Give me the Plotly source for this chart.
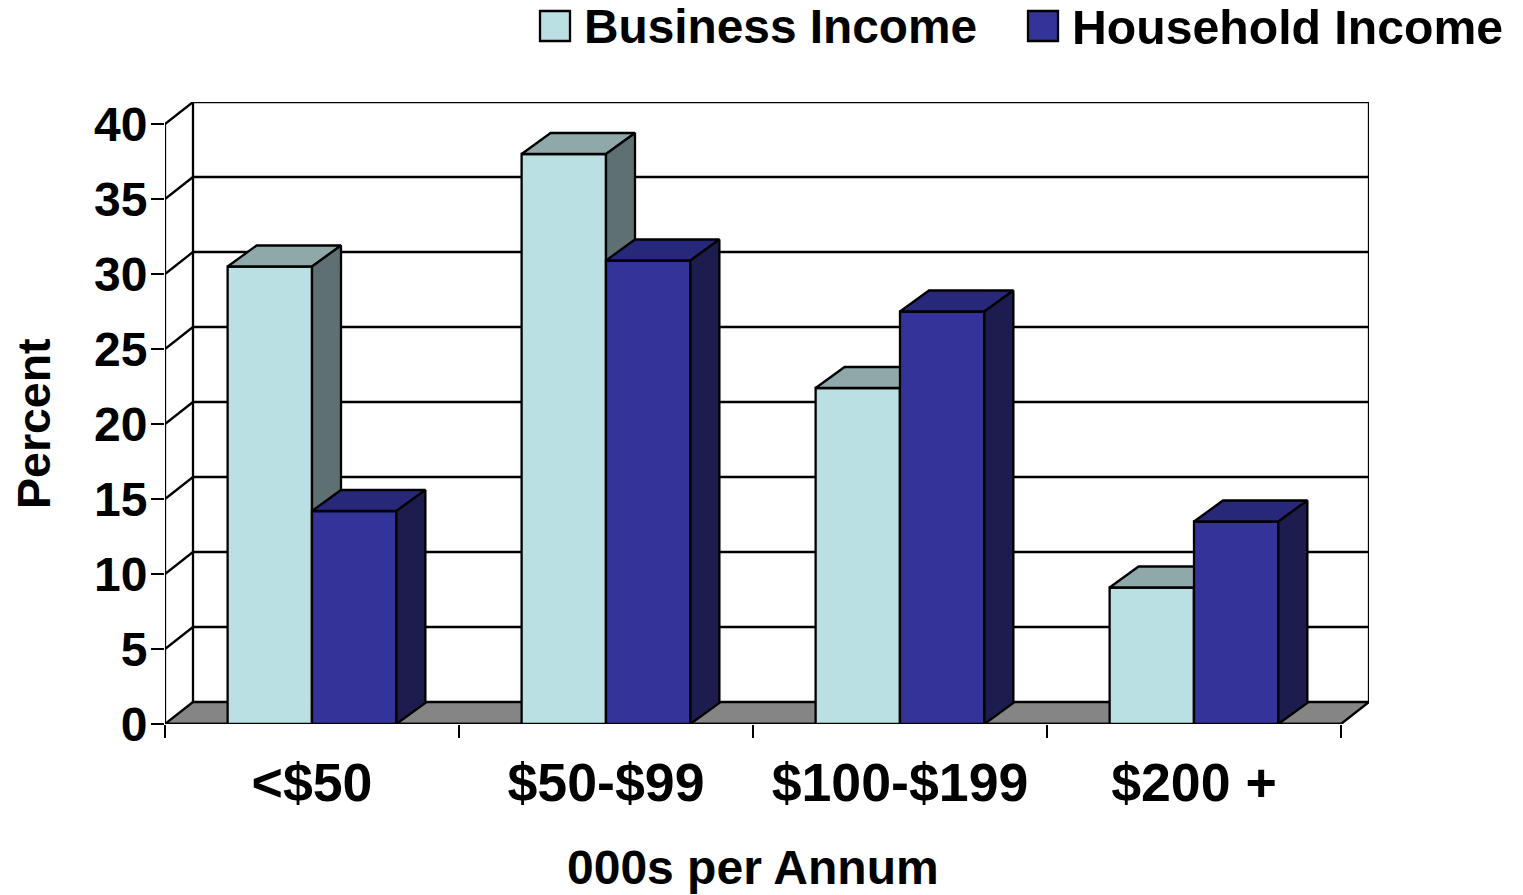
import plotly.graph_objects as go

categories = ["<$50", "$50-$99", "$100-$199", "$200 +"]
business_income = [30.5, 38.0, 22.4, 9.1]
household_income = [14.2, 30.9, 27.5, 13.5]
y_ticks = [0, 5, 10, 15, 20, 25, 30, 35, 40]
x_title = "000s per Annum"
y_title = "Percent"
series_names = ["Business Income", "Household Income"]

W, H = 1523, 895
L, R, T, B = 165, 1369, 102, 724
PX_X = 294.0   # pixels per category
PX_Y = 15.0    # pixels per percent
XMAX = (R - L) / PX_X
YMAX = (B - T) / PX_Y
WALL_DX, WALL_DY = 28 / PX_X, 22 / PX_Y
BAR_DX, BAR_DY = 29 / PX_X, 21 / PX_Y
BAR_W = 0.287
FONT = "Liberation Sans, Arial, sans-serif"
BLACK = "#000000"
LW = 2.3

centers = [i + 0.5 for i in range(len(categories))]
x_bus = [c - BAR_W / 2 for c in centers]
x_hou = [c + BAR_W / 2 for c in centers]


def faces(xs, vals):
    tx, ty, sx, sy = [], [], [], []
    for x, v in zip(xs, vals):
        x0, x1 = x - BAR_W / 2, x + BAR_W / 2
        tx += [x0, x1, x1 + BAR_DX, x0 + BAR_DX, x0, None]
        ty += [v, v, v + BAR_DY, v + BAR_DY, v, None]
        sx += [x1, x1 + BAR_DX, x1 + BAR_DX, x1, x1, None]
        sy += [0, BAR_DY, v + BAR_DY, v, 0, None]
    return tx, ty, sx, sy


def poly(x, y, fill, xa, ya):
    return go.Scatter(x=x, y=y, xaxis=xa, yaxis=ya, mode="lines", fill="toself", fillcolor=fill,
                      line=dict(color=BLACK, width=LW), hoverinfo="skip", showlegend=False,
                      cliponaxis=False)


fig = go.Figure()

# Floor
fig.add_trace(poly([0, 4, 4 + WALL_DX, WALL_DX, 0], [0, 0, WALL_DY, WALL_DY, 0], "#858585", "x", "y"))

# Walls and gridlines
gx, gy = [], []
for v in y_ticks[1:]:
    gx += [0, WALL_DX, XMAX, None]
    gy += [v, v + WALL_DY, v + WALL_DY, None]
gx += [WALL_DX, WALL_DX, None, XMAX, XMAX, None, 0, 0, None, 0, 4]
gy += [WALL_DY, YMAX, None, WALL_DY, YMAX, None, 0, 40, None, 0, 0]
fig.add_trace(go.Scatter(x=gx, y=gy, mode="lines", line=dict(color=BLACK, width=LW),
                         hoverinfo="skip", showlegend=False, cliponaxis=False))

# Business Income
tx, ty, sx, sy = faces(x_bus, business_income)
fig.add_trace(go.Bar(x=x_bus, y=business_income, width=BAR_W, name=series_names[0], xaxis="x2", yaxis="y2",
                     marker=dict(color="#BBE0E3", line=dict(color=BLACK, width=LW)), showlegend=False))
fig.add_trace(poly(tx, ty, "#8FA8AA", "x2", "y2"))
fig.add_trace(poly(sx, sy, "#5E7072", "x2", "y2"))

# Household Income
tx, ty, sx, sy = faces(x_hou, household_income)
fig.add_trace(go.Bar(x=x_hou, y=household_income, width=BAR_W, name=series_names[1], xaxis="x3", yaxis="y3",
                     marker=dict(color="#333399", line=dict(color=BLACK, width=LW)), showlegend=False))
fig.add_trace(poly(tx, ty, "#28287A", "x3", "y3"))
fig.add_trace(poly(sx, sy, "#1C1C4F", "x3", "y3"))


def px(x):
    return (x - L) / (R - L)


def py(y):
    return (B - y) / (B - T)


hidden = dict(range=[0, XMAX], showgrid=False, zeroline=False, showline=False, fixedrange=True)
hiddeny = dict(range=[0, YMAX], showgrid=False, zeroline=False, showline=False, fixedrange=True,
               showticklabels=False, ticks="")

legend_items = [(540, 570, 585, series_names[0], "#BBE0E3", 47.8), (1028, 1058, 1073, series_names[1], "#333399", 48.2)]
shapes = [dict(type="rect", xref="paper", yref="paper", x0=px(a), x1=px(b), y0=py(41), y1=py(11),
               fillcolor=c, line=dict(color=BLACK, width=LW)) for a, b, _, _, c, _ in legend_items]
annotations = [dict(text="<b>%s</b>" % n, xref="paper", yref="paper", x=px(t), y=py(27), xanchor="left",
                    yanchor="middle", showarrow=False, font=dict(size=s, color=BLACK, family=FONT),
                    xshift=-3) for _, _, t, n, _, s in legend_items]
annotations.append(dict(text="<b>%s</b>" % x_title, xref="paper", yref="paper", x=px(753), y=py(868),
                        xanchor="center", yanchor="middle", showarrow=False,
                        font=dict(size=48, color=BLACK, family=FONT)))
annotations.append(dict(text="<b>%s</b>" % y_title, xref="paper", yref="paper", x=px(34), y=py(424),
                        xanchor="center", yanchor="middle", showarrow=False, textangle=-90,
                        font=dict(size=46.5, color=BLACK, family=FONT)))

fig.update_layout(
    width=W, height=H, autosize=False, margin=dict(l=L, r=W - R, t=T, b=H - B, pad=0),
    paper_bgcolor="#FFFFFF", plot_bgcolor="#FFFFFF", barmode="overlay", showlegend=False,
    shapes=shapes, annotations=annotations,
    xaxis=dict(**hidden, tickmode="array", tickvals=list(range(len(categories) + 1)), ticks="outside",
               ticklen=13, tickwidth=LW, tickcolor=BLACK, showticklabels=False),
    yaxis=dict(range=[0, YMAX], showgrid=False, zeroline=False, showline=False, fixedrange=True,
               tickmode="array", tickvals=y_ticks, ticks="outside", ticklen=13, tickwidth=LW, tickcolor=BLACK,
               ticklabelstandoff=-6,
               tickfont=dict(size=48, color=BLACK, family=FONT, weight="bold")),
    xaxis2=dict(**hidden, overlaying="x", tickmode="array", tickvals=centers, ticktext=categories,
                ticks="outside", ticklen=12, tickcolor="rgba(0,0,0,0)",
                tickfont=dict(size=53.7, color=BLACK, family=FONT, weight="bold")),
    yaxis2=dict(**hiddeny, overlaying="y"),
    xaxis3=dict(**hidden, overlaying="x", showticklabels=False, ticks=""),
    yaxis3=dict(**hiddeny, overlaying="y"),
)

fig.write_html("out.html", config={"displayModeBar": False},
               post_script="document.body.style.margin='0';document.documentElement.style.overflow='hidden';")
